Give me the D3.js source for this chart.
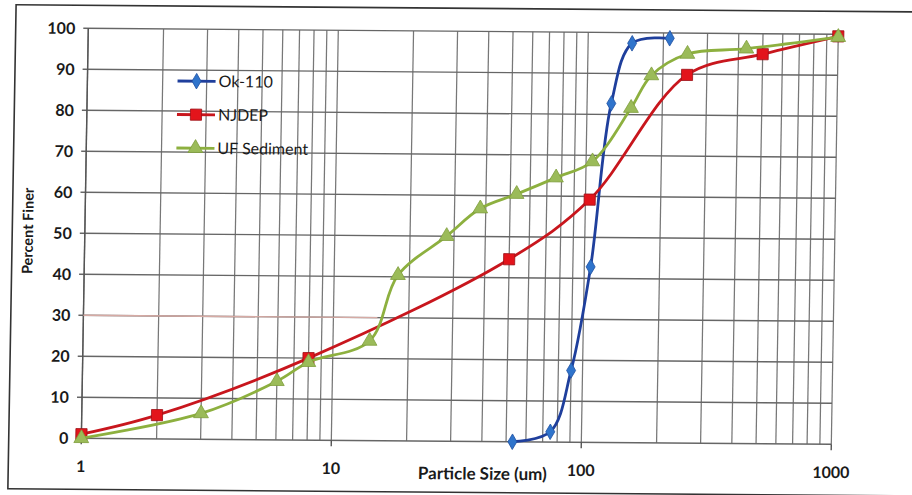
<!DOCTYPE html>
<html>
<head>
<meta charset="utf-8">
<style>
  body { margin: 0; background: #fff; }
  text { font-family: Lato, "Open Sans", sans-serif; fill: #1a1a1a; }
</style>
<script src="https://d3js.org/d3.v7.min.js"></script>
</head>
<body>
<script>
// data
const okSize  = [53, 75, 90, 106, 125, 150, 212];
const okFiner = [0, 2.5, 17.5, 42.8, 82.7, 97.4, 98.7];

const njSize  = [1, 2, 8, 50, 104, 250, 500, 1000];
const njFiner = [1, 5.8, 20, 44.5, 59.2, 89.8, 95, 99.5];

const ufSize  = [1, 3, 6, 8, 14, 18, 28, 38, 53, 76, 106, 150, 180, 250, 430, 1000];
const ufFiner = [0, 6.3, 14.3, 19, 24.3, 40.4, 50, 56.8, 60.4, 64.5, 68.5, 81.6, 89.6, 94.9, 96.3, 99.3];

// the faint reference line at 30 on the left
const refSize  = [1, 15];
const refFiner = [30, 30];

const yTicks = [0, 10, 20, 30, 40, 50, 60, 70, 80, 90, 100];
const xLabels = [1, 10, 100, 1000];

const width = 912, height = 495;
const plotLeft = 85, plotRight = 834, plotTop = 31, plotBottom = 441;

const svg = d3.select("body").append("svg")
    .attr("width", width)
    .attr("height", height);

svg.append("rect").attr("width", width).attr("height", height).attr("fill", "#fff");

// the scan is slightly skewed, so the whole drawing is too
const g = svg.append("g")
    .attr("transform", "matrix(1.0013,0.008,-0.017,1,3.72,-3.38)");

// outer chart border
g.append("rect")
    .attr("x", 12.5).attr("y", 8)
    .attr("width", 930).attr("height", 484)
    .attr("fill", "none")
    .attr("stroke", "#333")
    .attr("stroke-width", 1.6);

const x = d3.scaleLog().domain([1, 1000]).range([plotLeft, plotRight]);
const y = d3.scaleLinear().domain([0, 100]).range([plotBottom, plotTop]);

// every 1..9 gridline on each decade
let xGrid = [];
for (let dec = 1; dec < 1000; dec *= 10) {
    for (let k = 1; k < 10; k++) xGrid.push(dec * k);
}
xGrid.push(1000);

g.append("g").selectAll("line")
    .data(xGrid)
    .join("line")
    .attr("x1", d => x(d)).attr("x2", d => x(d))
    .attr("y1", plotTop).attr("y2", plotBottom)
    .attr("stroke", "#777")
    .attr("stroke-width", 1.25);

g.append("g").selectAll("line")
    .data(yTicks)
    .join("line")
    .attr("x1", plotLeft - 5).attr("x2", plotRight)
    .attr("y1", d => y(d)).attr("y2", d => y(d))
    .attr("stroke", "#666")
    .attr("stroke-width", 1.4);

// axes
g.append("line")
    .attr("x1", plotLeft).attr("x2", plotLeft)
    .attr("y1", plotTop).attr("y2", plotBottom)
    .attr("stroke", "#555").attr("stroke-width", 1.4);
g.append("g").selectAll("line")
    .data(xLabels)
    .join("line")
    .attr("x1", d => x(d)).attr("x2", d => x(d))
    .attr("y1", plotBottom).attr("y2", plotBottom + 6)
    .attr("stroke", "#555").attr("stroke-width", 1.4);

// tick labels
g.append("g").selectAll("text")
    .data(yTicks)
    .join("text")
    .attr("x", plotLeft - 13)
    .attr("y", d => y(d))
    .attr("dy", "0.36em")
    .attr("text-anchor", "end")
    .attr("font-size", 16)
    .attr("font-weight", "bold")
    .text(d => d);

g.append("g").selectAll("text")
    .data(xLabels)
    .join("text")
    .attr("x", d => x(d))
    .attr("y", plotBottom + 28)
    .attr("dy", "0.36em")
    .attr("text-anchor", "middle")
    .attr("font-size", 16)
    .attr("font-weight", "bold")
    .text(d => d);

// axis titles
g.append("text")
    .attr("x", 486).attr("y", 473)
    .attr("dy", "0.36em")
    .attr("text-anchor", "middle")
    .attr("font-size", 17)
    .attr("font-weight", "bold")
    .text("Particle Size (um)");

g.append("text")
    .attr("transform", "translate(28,234) rotate(-90)")
    .attr("dy", "0.36em")
    .attr("text-anchor", "middle")
    .attr("font-size", 14.5)
    .attr("font-weight", "bold")
    .text("Percent Finer");

// faint line at 30
g.append("path")
    .datum(refSize.map((s, i) => [s, refFiner[i]]))
    .attr("d", d3.line().x(d => x(d[0])).y(d => y(d[1])))
    .attr("fill", "none")
    .attr("stroke", "#d6aaa4")
    .attr("stroke-width", 1.4);

const series = [
    {name: "Ok-110", sizes: okSize, values: okFiner, line: "#1f3f9c", fill: "#2f74cc", edge: "#1f4fa0", shape: d3.symbolDiamond, msize: 70},
    {name: "NJDEP", sizes: njSize, values: njFiner, line: "#c8161d", fill: "#e3141b", edge: "#9c1016", shape: d3.symbolSquare, msize: 125},
    {name: "UF Sediment", sizes: ufSize, values: ufFiner, line: "#8db03f", fill: "#9bbb59", edge: "#7f9e3c", shape: d3.symbolTriangle, msize: 95}
];

const line = d3.line()
    .x(d => x(d[0]))
    .y(d => y(d[1]))
    .curve(d3.curveCatmullRom.alpha(0.5));

series.forEach(s => {
    const pts = s.sizes.map((v, i) => [v, s.values[i]]);
    g.append("path")
        .datum(pts)
        .attr("d", line)
        .attr("fill", "none")
        .attr("stroke", s.line)
        .attr("stroke-width", 2.8);
    g.append("g").selectAll("path")
        .data(pts)
        .join("path")
        .attr("transform", d => `translate(${x(d[0])},${y(d[1])})`)
        .attr("d", d3.symbol().type(s.shape).size(s.msize))
        .attr("fill", s.fill)
        .attr("stroke", s.edge)
        .attr("stroke-width", 0.8);
});

// legend
const legend = g.append("g").attr("transform", "translate(175,83)");
series.forEach((s, i) => {
    const row = legend.append("g").attr("transform", `translate(0,${i * 33.5})`);
    row.append("line")
        .attr("x1", 0).attr("x2", 38)
        .attr("stroke", s.line).attr("stroke-width", 2.8);
    row.append("path")
        .attr("transform", "translate(19,0)")
        .attr("d", d3.symbol().type(s.shape).size(s.msize))
        .attr("fill", s.fill)
        .attr("stroke", s.edge)
        .attr("stroke-width", 0.8);
    row.append("text")
        .attr("x", 41)
        .attr("dy", "0.36em")
        .attr("font-size", 16)
        .text(s.name);
});
</script>
</body>
</html>
